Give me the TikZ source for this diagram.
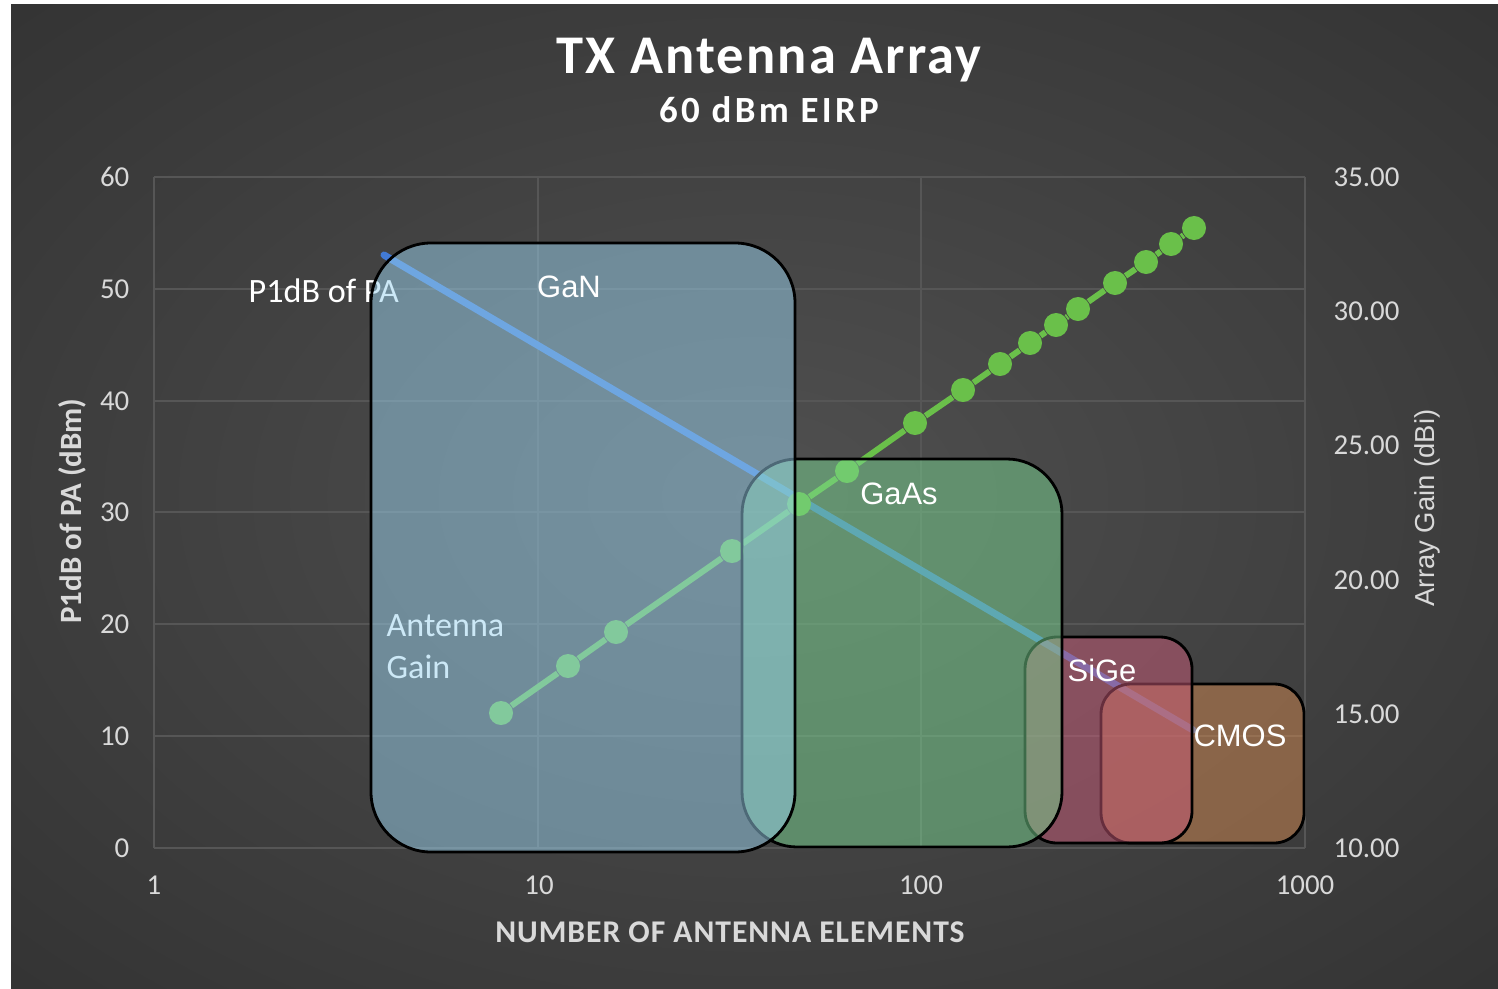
\documentclass[tikz,border=0pt]{standalone}
\usepackage{fontspec}
\setmainfont{Carlito}
\newfontfamily\arialfont{Liberation Sans}
\definecolor{bginner}{RGB}{80,80,80}
\definecolor{bgouter}{RGB}{40,40,40}
\definecolor{gridgrey}{RGB}{86,86,86}
\definecolor{ticktext}{RGB}{217,217,217}
\definecolor{paline}{RGB}{66,122,212}
\definecolor{gaingreen}{RGB}{106,192,74}
\definecolor{ganfill}{RGB}{154,210,238}
\definecolor{gaasfill}{RGB}{122,214,146}
\definecolor{sigefill}{RGB}{204,92,122}
\definecolor{cmosfill}{RGB}{212,138,82}
\pgfdeclareradialshading{chartbg}{\pgfpoint{0bp}{0bp}}{color(0bp)=(bginner); color(50bp)=(bgouter)}

\begin{document}
\begin{tikzpicture}[x = 0.01cm, y = -0.01cm,
                        gridline/.style = {draw = gridgrey, line width = 0.4pt},
                        ticklabel/.style = {text = ticktext, inner sep = 0pt, font = \fontsize{8.2}{10}\selectfont},
                        gaindot/.style = {circle, fill = gaingreen, minimum size = 0.24cm, inner sep = 0pt},
                        gainseries/.style = {draw = gaingreen, line width = 1.7pt},
                        paseries/.style = {draw = paline, line width = 2pt, line cap = round},
                        seriestext/.style = {text = white, inner sep = 0pt, font = \fontsize{9.7}{12}\selectfont},
                        techbox/.style = {draw = black, line width = 0.8pt, fill opacity = 0.5},
                        techtext/.style = {text = white, font = \arialfont\fontsize{8.8}{10}\selectfont}]
      \useasboundingbox (0,0) rectangle (1498,988);
      \shade[shading = chartbg] (11,5) rectangle (1498,988);
      % grid
      \draw[gridline] (154,177) -- (1305,177);
      \draw[gridline] (154,289) -- (1305,289);
      \draw[gridline] (154,401) -- (1305,401);
      \draw[gridline] (154,512) -- (1305,512);
      \draw[gridline] (154,624) -- (1305,624);
      \draw[gridline] (154,736) -- (1305,736);
      \draw[gridline] (154,848) -- (1305,848);
      \draw[gridline] (154,177) -- (154,848);
      \draw[gridline] (538,177) -- (538,848);
      \draw[gridline] (921,177) -- (921,848);
      \draw[gridline] (1305,177) -- (1305,848);
      % axes
      \node [ticklabel, anchor = east] (l60) at (130,177) {60};
      \node [ticklabel, anchor = east] (l50) at (130,289) {50};
      \node [ticklabel, anchor = east] (l40) at (130,401) {40};
      \node [ticklabel, anchor = east] (l30) at (130,512) {30};
      \node [ticklabel, anchor = east] (l20) at (130,624) {20};
      \node [ticklabel, anchor = east] (l10) at (130,736) {10};
      \node [ticklabel, anchor = east] (l0) at (130,848) {0};
      \node [ticklabel, anchor = west] (r35) at (1333,177) {35.00};
      \node [ticklabel, anchor = west] (r30) at (1333,311) {30.00};
      \node [ticklabel, anchor = west] (r25) at (1333,445) {25.00};
      \node [ticklabel, anchor = west] (r20) at (1333,580) {20.00};
      \node [ticklabel, anchor = west] (r15) at (1333,714) {15.00};
      \node [ticklabel, anchor = west] (r10) at (1333,848) {10.00};
      \node [ticklabel] (x1) at (154,885) {1};
      \node [ticklabel] (x10) at (539,885) {10};
      \node [ticklabel] (x100) at (921,885) {100};
      \node [ticklabel] (x1000) at (1305,885) {1000};
      \node [text = ticktext, rotate = 90, font = \fontsize{8.8}{10}\selectfont\bfseries] (ylabel) at (72,511) {P1dB of PA (dBm)};
      \node [text = ticktext, rotate = 90, font = \arialfont\fontsize{7.8}{9}\selectfont] (y2label) at (1427,508) {Array Gain (dBi)};
      \node [text = ticktext, font = \fontsize{9}{11}\selectfont\bfseries\addfontfeature{LetterSpace=3}] (xlabel) at (730,932) {NUMBER OF ANTENNA ELEMENTS};
      \node [text = white, font = \fontsize{15.5}{18}\selectfont\bfseries\addfontfeature{LetterSpace=4}] (title) at (769,60) {TX Antenna Array};
      \node [text = white, font = \fontsize{10.5}{12}\selectfont\bfseries\addfontfeature{LetterSpace=9}] (subtitle) at (769,110) {60 dBm EIRP};
      % series
      \node [seriestext, anchor = west] (palabel) at (248,291) {P1dB of PA};
      \node [seriestext, anchor = west, align = left] (gainlabel) at (386,647) {Antenna\\ Gain};
      \coordinate (pa4) at (384,255);
      \coordinate (pa512) at (1193,730);
      \draw[paseries] (pa4) -- (pa512);
      \node [gaindot] (g8) at (501,713) {};
      \node [gaindot] (g12) at (568,666) {};
      \node [gaindot] (g16) at (616,632) {};
      \node [gaindot] (g32) at (732,551) {};
      \node [gaindot] (g48) at (799,504) {};
      \node [gaindot] (g64) at (847,471) {};
      \node [gaindot] (g96) at (915,423) {};
      \node [gaindot] (g128) at (963,390) {};
      \node [gaindot] (g160) at (1000,364) {};
      \node [gaindot] (g192) at (1030,343) {};
      \node [gaindot] (g224) at (1056,325) {};
      \node [gaindot] (g256) at (1078,309) {};
      \node [gaindot] (g320) at (1115,283) {};
      \node [gaindot] (g384) at (1146,262) {};
      \node [gaindot] (g448) at (1171,244) {};
      \node [gaindot] (g512) at (1194,228) {};
      \draw[gainseries] (g8) -- (g12) -- (g16) -- (g32) -- (g48) -- (g64) -- (g96) -- (g128)
                        -- (g160) -- (g192) -- (g224) -- (g256) -- (g320) -- (g384) -- (g448) -- (g512);
      % technology regions
      \draw[techbox, fill = cmosfill, rounded corners = 0.3cm] (1101,684) rectangle (1304,843);
      \draw[techbox, fill = sigefill, rounded corners = 0.32cm] (1025,637) rectangle (1192,843);
      \draw[techbox, fill = gaasfill, rounded corners = 0.55cm] (742,459) rectangle (1062,847);
      \draw[techbox, fill = ganfill, rounded corners = 0.6cm] (371,243) rectangle (795,852);
      \node [techtext] (gan) at (569,287) {GaN};
      \node [techtext] (gaas) at (899,494) {GaAs};
      \node [techtext] (sige) at (1102,670) {SiGe};
      \node [techtext] (cmos) at (1240,736) {CMOS};
    \end{tikzpicture}
\end{document}
